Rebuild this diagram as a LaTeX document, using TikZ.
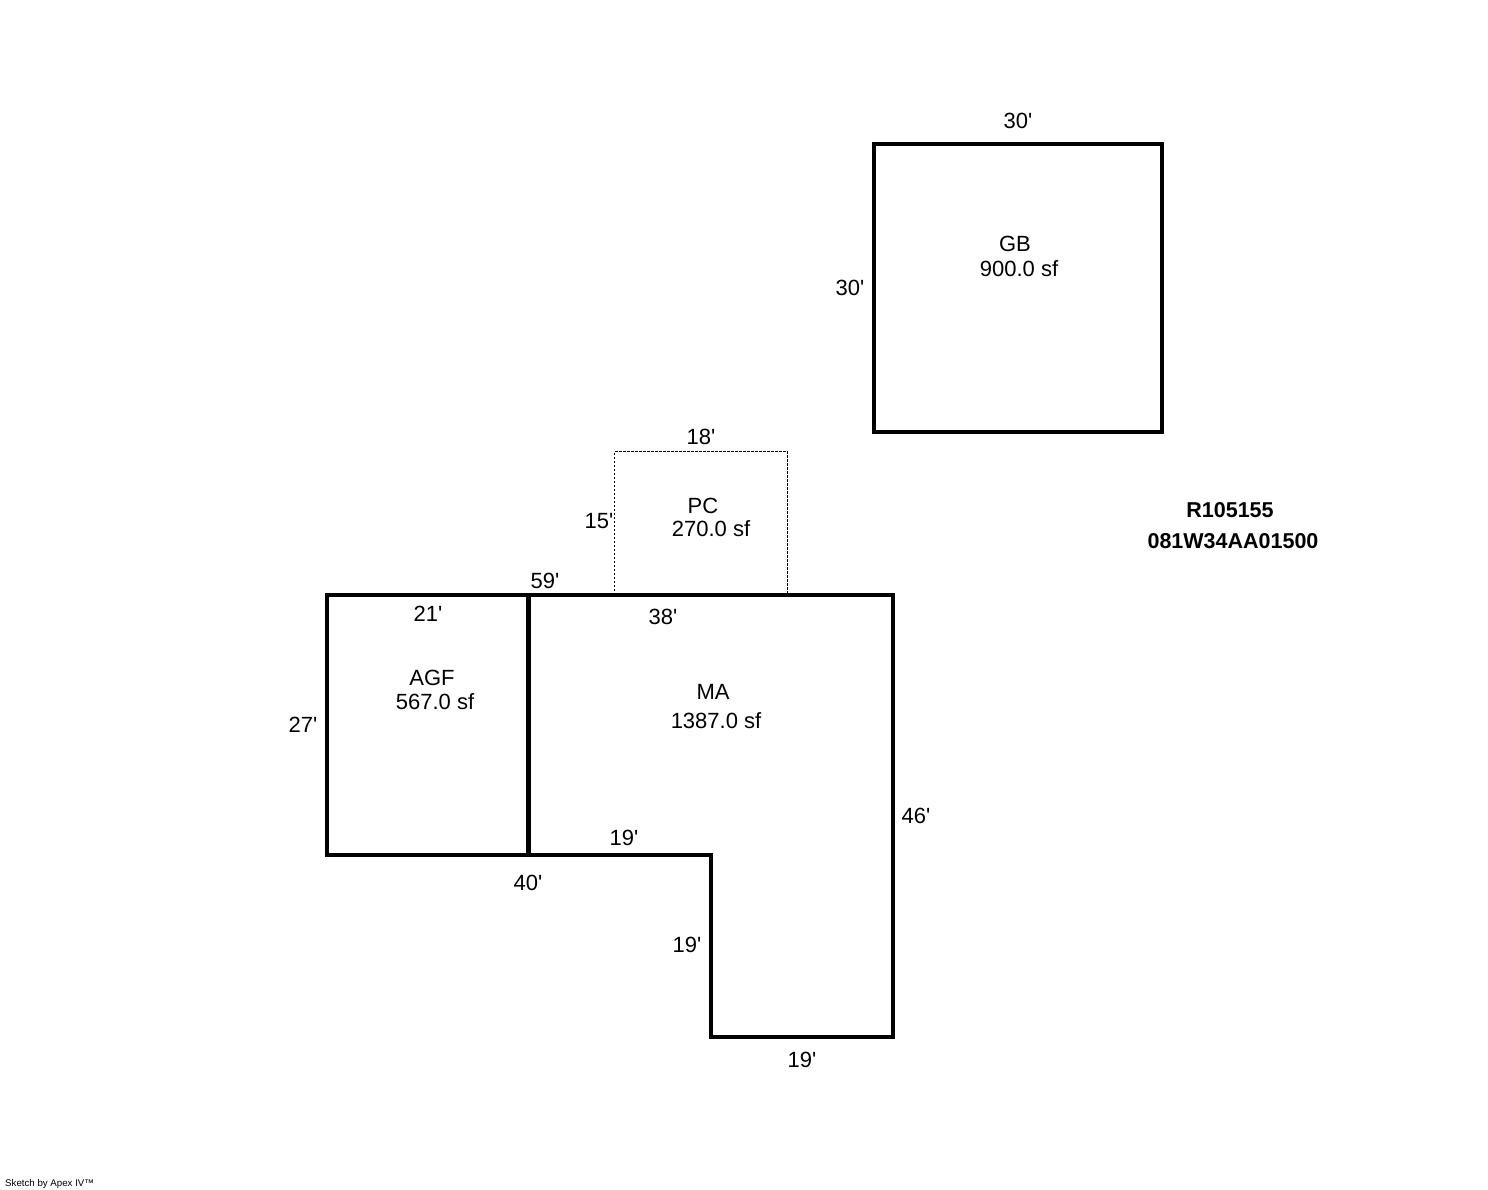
\documentclass[tikz,border=0pt]{standalone}
\usepackage{fontspec}
\setmainfont{Liberation Sans}
\newcommand{\ft}{\textquotesingle}
\begin{document}
\begin{tikzpicture}[x=1pt,y=-1pt,
  wall/.style={line width=4.6pt,line cap=butt,line join=miter,black},
  divider/.style={line width=5pt,line cap=butt,black},
  porch/.style={line width=1pt,dash pattern=on 2.5pt off 1.5pt,black},
  lab/.style={inner sep=0pt,font=\fontsize{22}{24}\selectfont},
  blab/.style={lab,font=\fontsize{21.5}{24}\selectfont\bfseries},
  tiny/.style={inner sep=0pt,anchor=west,font=\fontsize{9.7}{10}\selectfont}]
\useasboundingbox (0,0) rectangle (1488,1190);
\fill[white] (0,0) rectangle (1488,1190);
\coordinate (g1) at (874,144);\coordinate (g2) at (1162,144);\coordinate (g3) at (1162,432);\coordinate (g4) at (874,432);
\draw[wall] (g1)--(g2)--(g3)--(g4)--cycle;
\coordinate (p1) at (614.5,595);\coordinate (p2) at (614.5,451.5);\coordinate (p3) at (787.5,451.5);\coordinate (p4) at (787.5,595);
\draw[porch] (p1)--(p2)--(p3)--(p4);
\coordinate (a1) at (327,595);\coordinate (a2) at (528,595);\coordinate (a3) at (528,855);\coordinate (a4) at (327,855);
\coordinate (m1) at (893,595);\coordinate (m2) at (893,1037);\coordinate (m3) at (711,1037);\coordinate (m4) at (711,855);
\draw[wall] (a1)--(m1)--(m2)--(m3)--(m4)--(a4)--cycle;
\draw[divider] (a2)--(a3);
\node[lab] (t1) at (1018,121) {30\ft};
\node[lab] (t2) at (850,288) {30\ft};
\node[lab] (t3) at (1015,244) {GB};
\node[lab] (t4) at (1019,269) {900.0 sf};
\node[lab] (t5) at (701,437) {18\ft};
\node[lab] (t6) at (599,521) {15\ft};
\node[lab] (t7) at (703,506) {PC};
\node[lab] (t8) at (711,529) {270.0 sf};
\node[blab] (t9) at (1230,510) {R105155};
\node[blab] (t10) at (1233,541) {081W34AA01500};
\node[lab] (t11) at (545,581) {59\ft};
\node[lab] (t12) at (428,614) {21\ft};
\node[lab] (t13) at (663,617) {38\ft};
\node[lab] (t14) at (432,678) {AGF};
\node[lab] (t15) at (435,702) {567.0 sf};
\node[lab] (t16) at (713,692) {MA};
\node[lab] (t17) at (716,721) {1387.0 sf};
\node[lab] (t18) at (303,725) {27\ft};
\node[lab] (t19) at (916,816) {46\ft};
\node[lab] (t20) at (624,838) {19\ft};
\node[lab] (t21) at (528,883) {40\ft};
\node[lab] (t22) at (687,945) {19\ft};
\node[lab] (t23) at (802,1060) {19\ft};
\node[tiny] (t24) at (5,1184) {Sketch by Apex IV\texttrademark};
\end{tikzpicture}
\end{document}
